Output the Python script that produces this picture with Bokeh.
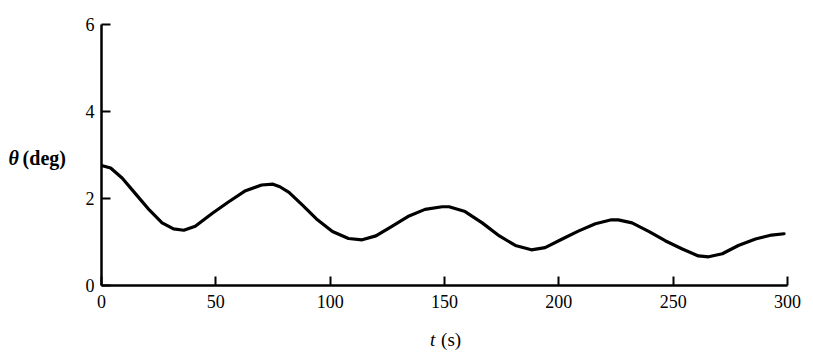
from bokeh.plotting import figure
from bokeh.models import Range1d, Label, FixedTicker
from bokeh.embed import file_html
from bokeh.resources import INLINE

# data
t_s = [0, 4, 9, 15, 21, 26.5, 31.5, 36, 41, 48.5, 55.5, 63, 70, 75, 78, 82, 88, 94,
       101, 108, 114, 120, 127, 134.5, 141.5, 149, 152, 159, 166.5, 174, 181, 188,
       194, 201.5, 208.5, 216, 223, 226, 232, 239.5, 246.5, 254, 261, 265.5, 271.5,
       278.5, 286, 293, 298.5]
theta_deg = [2.76, 2.70, 2.47, 2.10, 1.73, 1.44, 1.30, 1.27, 1.36, 1.66, 1.92, 2.18,
             2.31, 2.33, 2.27, 2.14, 1.84, 1.53, 1.24, 1.08, 1.05, 1.14, 1.36, 1.60,
             1.75, 1.81, 1.81, 1.70, 1.44, 1.14, 0.92, 0.82, 0.87, 1.07, 1.25, 1.42,
             1.51, 1.51, 1.44, 1.24, 1.03, 0.84, 0.68, 0.66, 0.73, 0.92, 1.07, 1.16, 1.19]
x_ticks = [0, 50, 100, 150, 200, 250, 300]
y_ticks = [0, 2, 4, 6]

FONT = "Liberation Serif"

p = figure(width=805, height=352, output_backend="svg", toolbar_location=None,
           x_range=Range1d(0, 300), y_range=Range1d(0, 6),
           min_border_left=101, min_border_right=18, min_border_top=24, min_border_bottom=58)
p.outline_line_color = None
p.grid.grid_line_color = None
p.background_fill_color = "white"
p.border_fill_color = "white"

p.line(t_s, theta_deg, line_width=3.2, line_color="black", line_join="round", line_cap="round")

for ax, ticks in ((p.xaxis[0], x_ticks), (p.yaxis[0], y_ticks)):
    ax.ticker = FixedTicker(ticks=ticks)
    ax.axis_line_width = 2.5
    ax.axis_line_color = "black"
    ax.major_tick_in = 9
    ax.major_tick_out = 0
    ax.major_tick_line_width = 2
    ax.major_tick_line_color = "black"
    ax.minor_tick_line_color = None
    ax.major_label_text_font = FONT
    ax.major_label_text_font_size = "18px"
    ax.major_label_text_color = "black"
    ax.axis_label = None

p.yaxis[0].major_label_standoff = 7
p.xaxis[0].major_label_standoff = 9

# y axis label (horizontal), placed in the left side panel so it is not clipped
p.add_layout(Label(x=-40.7, y=2.93, text="θ", text_font=FONT, text_font_style="bold italic",
                   text_font_size="20px", text_baseline="middle", text_align="left",
                   text_color="black"), "left")
p.add_layout(Label(x=-34.5, y=2.93, text="(deg)", text_font=FONT, text_font_style="bold",
                   text_font_size="20px", text_baseline="middle", text_align="left",
                   text_color="black"), "left")
# x axis label
p.add_layout(Label(x=146.0, y=-1.25, text="t", text_font=FONT, text_font_style="italic",
                   text_font_size="19px", text_baseline="middle", text_align="right",
                   text_color="black"), "below")
p.add_layout(Label(x=148.5, y=-1.25, text="(s)", text_font=FONT,
                   text_font_size="19px", text_baseline="middle", text_align="left",
                   text_color="black"), "below")

open("out.html", "w").write(file_html(p, INLINE))
